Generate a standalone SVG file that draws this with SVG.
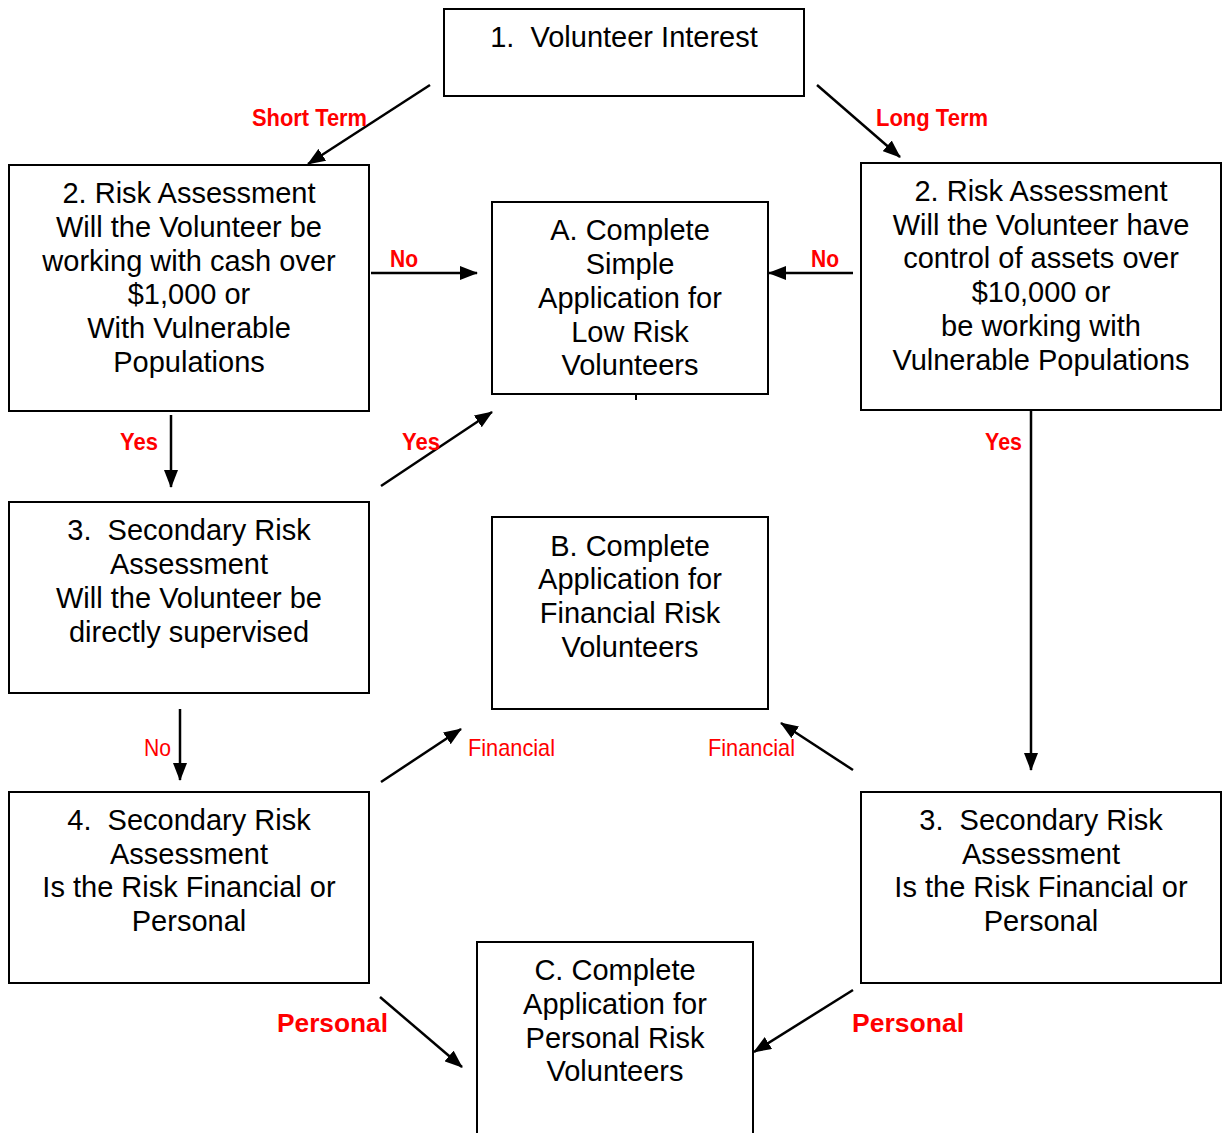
<svg xmlns="http://www.w3.org/2000/svg" width="1225" height="1133" viewBox="0 0 1225 1133">
<defs>
<marker id="ah" markerUnits="userSpaceOnUse" markerWidth="18" markerHeight="14" refX="17" refY="7" orient="auto">
<path d="M0,0 L18,7 L0,14 Z" fill="#000"/>
</marker>
<style>
.box{fill:#fff;stroke:#000;stroke-width:2}
.t{font-family:"Liberation Sans",Arial,sans-serif;font-size:29px;fill:#000;text-anchor:middle}
.c line{stroke:#000;stroke-width:2.5;marker-end:url(#ah)}
.lb{font-family:"Liberation Sans",Arial,sans-serif;font-size:24px;font-weight:bold;fill:#f00}
.lr{font-family:"Liberation Sans",Arial,sans-serif;font-size:24px;fill:#f00}
.lp{font-family:"Liberation Sans",Arial,sans-serif;font-size:25px;font-weight:bold;fill:#f00}
</style>
</defs>
<rect width="1225" height="1133" fill="#fff"/>

<g id="n1">
<rect class="box" x="444" y="9" width="360" height="87"/>
<text class="t" x="624" y="47" xml:space="preserve">1.  Volunteer Interest</text>
</g>
<g id="n2L">
<rect class="box" x="9" y="165" width="360" height="246"/>
<text class="t" x="189" y="203">2. Risk Assessment</text>
<text class="t" x="189" y="237">Will the Volunteer be</text>
<text class="t" x="189" y="271">working with cash over</text>
<text class="t" x="189" y="304">$1,000 or</text>
<text class="t" x="189" y="338">With Vulnerable</text>
<text class="t" x="189" y="372">Populations</text>
</g>
<g id="nA">
<rect class="box" x="492" y="202" width="276" height="192"/>
<text class="t" x="630" y="240">A. Complete</text>
<text class="t" x="630" y="274">Simple</text>
<text class="t" x="630" y="308">Application for</text>
<text class="t" x="630" y="342">Low Risk</text>
<text class="t" x="630" y="375">Volunteers</text>
</g>
<g id="n2R">
<rect class="box" x="861" y="163" width="360" height="247"/>
<text class="t" x="1041" y="201">2. Risk Assessment</text>
<text class="t" x="1041" y="235">Will the Volunteer have</text>
<text class="t" x="1041" y="268">control of assets over</text>
<text class="t" x="1041" y="302">$10,000 or</text>
<text class="t" x="1041" y="336">be working with</text>
<text class="t" x="1041" y="370">Vulnerable Populations</text>
</g>
<g id="n3L">
<rect class="box" x="9" y="502" width="360" height="191"/>
<text class="t" x="189" y="540" xml:space="preserve">3.  Secondary Risk</text>
<text class="t" x="189" y="574">Assessment</text>
<text class="t" x="189" y="608">Will the Volunteer be</text>
<text class="t" x="189" y="642">directly supervised</text>
</g>
<g id="nB">
<rect class="box" x="492" y="517" width="276" height="192"/>
<text class="t" x="630" y="556">B. Complete</text>
<text class="t" x="630" y="589">Application for</text>
<text class="t" x="630" y="623">Financial Risk</text>
<text class="t" x="630" y="657">Volunteers</text>
</g>
<g id="n4L">
<rect class="box" x="9" y="792" width="360" height="191"/>
<text class="t" x="189" y="830" xml:space="preserve">4.  Secondary Risk</text>
<text class="t" x="189" y="864">Assessment</text>
<text class="t" x="189" y="897">Is the Risk Financial or</text>
<text class="t" x="189" y="931">Personal</text>
</g>
<g id="n3R">
<rect class="box" x="861" y="792" width="360" height="191"/>
<text class="t" x="1041" y="830" xml:space="preserve">3.  Secondary Risk</text>
<text class="t" x="1041" y="864">Assessment</text>
<text class="t" x="1041" y="897">Is the Risk Financial or</text>
<text class="t" x="1041" y="931">Personal</text>
</g>
<g id="nC">
<rect class="box" x="477" y="942" width="276" height="210"/>
<text class="t" x="615" y="980">C. Complete</text>
<text class="t" x="615" y="1014">Application for</text>
<text class="t" x="615" y="1048">Personal Risk</text>
<text class="t" x="615" y="1081">Volunteers</text>
</g>

<g id="connectors" class="c">
<line x1="430" y1="85" x2="308" y2="164"/>
<line x1="817" y1="85" x2="900" y2="157"/>
<line x1="371" y1="273" x2="477" y2="273"/>
<line x1="853" y1="273" x2="769" y2="273"/>
<line x1="171" y1="415" x2="171" y2="487"/>
<line x1="381" y1="486" x2="492" y2="412"/>
<line x1="1031" y1="411" x2="1031" y2="770"/>
<line x1="180" y1="709" x2="180" y2="780"/>
<line x1="381" y1="782" x2="461" y2="729"/>
<line x1="853" y1="770" x2="781" y2="723"/>
<line x1="380" y1="997" x2="462" y2="1067"/>
<line x1="853" y1="990" x2="754" y2="1052"/>
<path d="M636,394 V400" stroke="#000" stroke-width="2"/>
</g>

<g id="labels">
<text class="lb" x="252" y="126" textLength="115" lengthAdjust="spacingAndGlyphs">Short Term</text>
<text class="lb" x="876" y="126" textLength="112" lengthAdjust="spacingAndGlyphs">Long Term</text>
<text class="lb" x="390" y="267" textLength="28" lengthAdjust="spacingAndGlyphs">No</text>
<text class="lb" x="811" y="267" textLength="28" lengthAdjust="spacingAndGlyphs">No</text>
<text class="lb" x="120" y="450" textLength="38" lengthAdjust="spacingAndGlyphs">Yes</text>
<text class="lb" x="402" y="450" textLength="38" lengthAdjust="spacingAndGlyphs">Yes</text>
<text class="lb" x="985" y="450" textLength="37" lengthAdjust="spacingAndGlyphs">Yes</text>
<text class="lr" x="144" y="756" textLength="27" lengthAdjust="spacingAndGlyphs">No</text>
<text class="lr" x="468" y="756" textLength="87" lengthAdjust="spacingAndGlyphs">Financial</text>
<text class="lr" x="708" y="756" textLength="87" lengthAdjust="spacingAndGlyphs">Financial</text>
<text class="lp" x="277" y="1032" textLength="111" lengthAdjust="spacingAndGlyphs">Personal</text>
<text class="lp" x="852" y="1032" textLength="112" lengthAdjust="spacingAndGlyphs">Personal</text>
</g>
</svg>
